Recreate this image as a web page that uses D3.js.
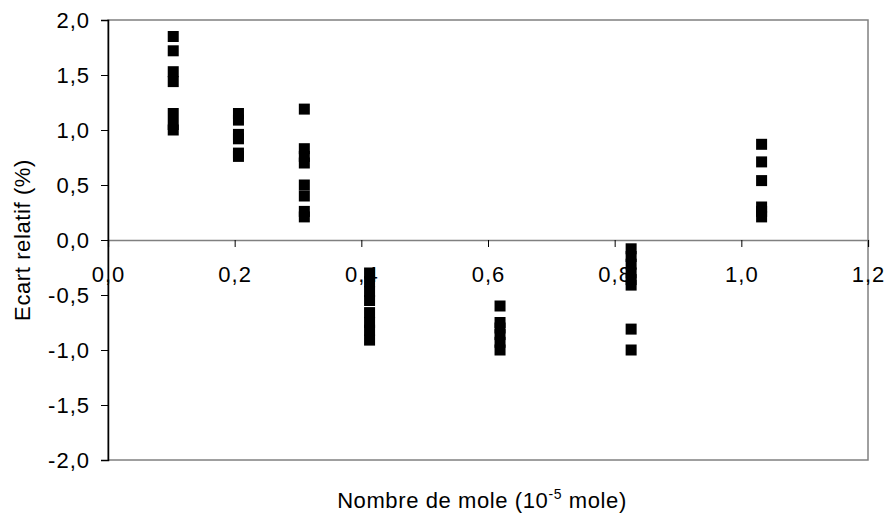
<!DOCTYPE html>
<html>
<head>
<meta charset="utf-8">
<script src="https://cdn.jsdelivr.net/npm/d3@7"></script>
<style>
  body { margin: 0; background: #fff; }
  text { font-family: "Liberation Sans", Arial, sans-serif; fill: #000; }
</style>
</head>
<body>
<main></main>
<script>
// data: one x per group, several y readings each
const xGroups = [0.103, 0.206, 0.310, 0.413, 0.619, 0.826, 1.032];
const yGroup1 = [1.85, 1.72, 1.53, 1.44, 1.15, 1.05, 1.00];
const yGroup2 = [1.15, 1.09, 0.96, 0.92, 0.79, 0.76];
const yGroup3 = [1.19, 0.83, 0.76, 0.70, 0.50, 0.40, 0.26, 0.21];
const yGroup4 = [-0.30, -0.38, -0.47, -0.55, -0.66, -0.75, -0.82, -0.91];
const yGroup5 = [-0.60, -0.75, -0.80, -0.86, -0.93, -1.00];
const yGroup6 = [-0.08, -0.15, -0.22, -0.30, -0.36, -0.41, -0.81, -1.00];
const yGroup7 = [0.87, 0.71, 0.54, 0.30, 0.26, 0.21];
const xTicks = [0, 0.2, 0.4, 0.6, 0.8, 1.0, 1.2];
const yTicks = [-2, -1.5, -1, -0.5, 0, 0.5, 1, 1.5, 2];

const width = 887;
const height = 521;
const margin = {top: 20, right: 19, bottom: 61, left: 108};

const yGroups = [yGroup1, yGroup2, yGroup3, yGroup4, yGroup5, yGroup6, yGroup7];
const points = [];
xGroups.forEach((x, i) => {
  yGroups[i].forEach(y => points.push({x: x, y: y}));
});

const fmt = v => d3.format(".1f")(v).replace(".", ",").replace("−", "-");

const svg = d3.select('main').append('svg')
    .attr('width', width)
    .attr('height', height);

const x = d3.scaleLinear().domain([0, 1.2]).range([margin.left, width - margin.right]);
const y = d3.scaleLinear().domain([-2, 2]).range([height - margin.bottom, margin.top]);

// plot area frame (grey)
svg.append("rect")
    .attr("x", x(0))
    .attr("y", y(2))
    .attr("width", x(1.2) - x(0))
    .attr("height", y(-2) - y(2))
    .style("fill", "none")
    .style("stroke", "#808080")
    .style("stroke-width", 1.5);

// x axis at y = 0
const xAxis = svg.append("g")
    .attr("transform", `translate(0,${y(0)})`)
    .call(d3.axisBottom(x).tickValues(xTicks).tickSize(7).tickPadding(19).tickFormat(fmt));
xAxis.select(".domain").style("stroke", "#808080").style("stroke-width", 1.5);
xAxis.selectAll(".tick line").style("stroke", "#000");
xAxis.selectAll("text").style("font-size", "22px").style("letter-spacing", "1px");

// y axis
const yAxis = svg.append("g")
    .attr("transform", `translate(${x(0)},0)`)
    .call(d3.axisLeft(y).tickValues(yTicks).tickSize(7).tickPadding(11).tickFormat(fmt));
yAxis.select(".domain").style("stroke", "#000").style("stroke-width", 1.5);
yAxis.selectAll(".tick line").style("stroke", "#000");
yAxis.selectAll("text").style("font-size", "22px").style("letter-spacing", "1px");

// markers
const size = 11;
svg.append("g")
    .selectAll("rect")
    .data(points)
    .enter().append("rect")
    .attr("x", d => x(d.x) - size / 2)
    .attr("y", d => y(d.y) - size / 2)
    .attr("width", size)
    .attr("height", size)
    .style("fill", "#000");

// axis titles
svg.append("text")
    .attr("transform", `translate(30,${(y(2) + y(-2)) / 2}) rotate(-90)`)
    .attr("text-anchor", "middle")
    .style("font-size", "22px")
    .style("letter-spacing", "0.6px")
    .text("Ecart relatif (%)");

const xt = svg.append("text")
    .attr("x", (x(0) + x(1.2)) / 2 - 6)
    .attr("y", 508)
    .attr("text-anchor", "middle")
    .style("font-size", "22px")
    .style("letter-spacing", "0.6px");
xt.append("tspan").text("Nombre de mole (10");
xt.append("tspan").attr("dy", -9).style("font-size", "14px").text("-5");
xt.append("tspan").attr("dy", 9).text(" mole)");
</script>
</body>
</html>
